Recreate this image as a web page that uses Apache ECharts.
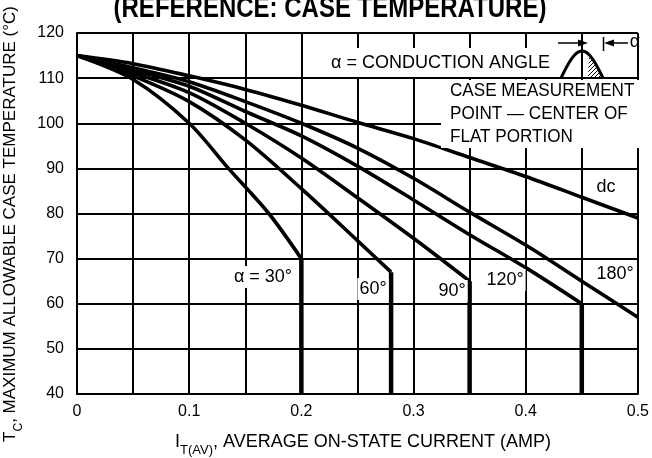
<!DOCTYPE html>
<html>
<head>
<meta charset="utf-8">
<script src="https://cdn.jsdelivr.net/npm/echarts@6/dist/echarts.min.js"></script>
<style>
    html, body { margin: 0; padding: 0; background: #fff; }
    #chart { width: 652px; height: 458px; }
</style>
</head>
<body>
<div id="chart"></div>
<script>
    // values: [I_T(AV) amps, T_C degC]
    var curveDc = [[0, 115], [0.05, 113.2], [0.1, 110.5], [0.15, 107.5], [0.2, 104], [0.25, 100.2], [0.3, 96.6], [0.35, 92.4], [0.4, 88.2], [0.45, 83.6], [0.5, 79]]
    var curve180 = [[0, 115], [0.05, 112.3], [0.1, 109.2], [0.15, 104.8], [0.2, 100], [0.25, 94.5], [0.3, 87.8], [0.35, 80.3], [0.4, 73], [0.45, 65], [0.5, 57]]
    var curve120 = [[0, 115], [0.05, 111.8], [0.1, 108.2], [0.15, 102.6], [0.2, 97.2], [0.25, 90.5], [0.3, 83], [0.35, 75.3], [0.4, 68], [0.45, 60]]
    var curve90 = [[0, 115], [0.05, 111.2], [0.1, 106.8], [0.15, 100], [0.2, 92.3], [0.25, 83.5], [0.3, 74.5], [0.35, 65]]
    var curve60 = [[0, 115], [0.05, 110.5], [0.1, 104.8], [0.15, 96.3], [0.2, 85.5], [0.25, 74], [0.28, 67]]
    var curve30 = [[0, 115], [0.05, 109.7], [0.1, 100], [0.135, 90], [0.171, 80], [0.2, 70]]
    // curves that stop at a current limit drop straight down to the bottom of the axis
    var dropFloor = 40

    var xTickLabels = ['0', '0.1', '0.2', '0.3', '0.4', '0.5']

    var font = "'Liberation Sans', Arial, sans-serif"

    var chart = echarts.init(document.getElementById('chart'))

    // small hatch pattern for the shaded part of the waveform
    var hatch = document.createElement('canvas')
    hatch.width = 4
    hatch.height = 4
    var hc = hatch.getContext('2d')
    hc.strokeStyle = '#000'
    hc.lineWidth = 1
    hc.beginPath()
    hc.moveTo(0, 4)
    hc.lineTo(4, 0)
    hc.stroke()

    function hump(x0, x1, base, h, from) {
        var pts = []
        for (var i = 0; i <= 24; i++) {
            var x = x0 + (x1 - x0) * i / 24
            if (from != null && x < from) continue
            pts.push([x, base - h * Math.sin(Math.PI * (x - x0) / (x1 - x0))])
        }
        return pts
    }
    var shaded = hump(561, 603, 78, 27, 588)
    shaded.unshift([588, 78])

    function curveSeries(data) {
        return {
            type: 'line',
            data: data,
            symbol: 'none',
            smooth: 0.3,
            silent: true,
            z: 3,
            lineStyle: { color: '#000', width: 3.6 }
        }
    }

    function dropSeries(data) {
        var last = data[data.length - 1]
        return {
            type: 'line',
            data: [last, [last[0], dropFloor]],
            symbol: 'none',
            silent: true,
            z: 3,
            lineStyle: { color: '#000', width: 4.5 }
        }
    }

    function label(text, x, y) {
        return {
            type: 'text', x: x, y: y, z: 10,
            style: {
                text: text, font: '18px ' + font, fill: '#000',
                align: 'center', verticalAlign: 'middle',
                backgroundColor: '#fff', padding: [2, 2]
            }
        }
    }

    chart.setOption({
        animation: false,
        grid: { left: 77, right: 9, top: 33, bottom: 64 },
        xAxis: {
            type: 'value', min: 0, max: 0.5, interval: 0.05,
            axisLine: { show: true, lineStyle: { color: '#000', width: 2 } },
            axisTick: { show: false },
            axisLabel: {
                color: '#000', fontSize: 16, fontFamily: font, margin: 10,
                formatter: function (v) {
                    var r = Math.round(v * 100)
                    return r % 10 === 0 ? xTickLabels[r / 10] : ''
                }
            },
            splitLine: { show: true, lineStyle: { color: '#000', width: 2 } }
        },
        yAxis: {
            type: 'value', min: 40, max: 120, interval: 10,
            axisLine: { show: true, lineStyle: { color: '#000', width: 2 } },
            axisTick: { show: false },
            axisLabel: { color: '#000', fontSize: 16, fontFamily: font, margin: 13 },
            splitLine: { show: true, lineStyle: { color: '#000', width: 2 } }
        },
        series: [
            curveSeries(curveDc),
            curveSeries(curve180),
            curveSeries(curve120),
            curveSeries(curve90),
            curveSeries(curve60),
            curveSeries(curve30),
            dropSeries(curve120),
            dropSeries(curve90),
            dropSeries(curve60),
            dropSeries(curve30)
        ],
        graphic: [
            {
                // title sits partly above the top edge, as in the scan
                type: 'text', x: 330, y: 24, z: 10, scaleX: 0.8,
                style: {
                    text: '(REFERENCE: CASE TEMPERATURE)',
                    font: 'bold 30px ' + font, fill: '#000',
                    align: 'center', verticalAlign: 'bottom'
                }
            },
            {
                type: 'text', x: 13, y: 224, rotation: Math.PI / 2, z: 10,
                style: {
                    text: '{n|T}{s|C}{n|, MAXIMUM ALLOWABLE CASE TEMPERATURE (°C)}',
                    align: 'center', verticalAlign: 'middle',
                    rich: {
                        n: { font: '17px ' + font, fill: '#000', lineHeight: 22, verticalAlign: 'top' },
                        s: { font: '12px ' + font, fill: '#000', lineHeight: 12, padding: [11, 0, 0, 0], verticalAlign: 'top' }
                    }
                }
            },
            {
                type: 'text', x: 363, y: 444, z: 10,
                style: {
                    text: '{n|I}{s|T(AV)}{n|, AVERAGE ON-STATE CURRENT (AMP)}',
                    align: 'center', verticalAlign: 'middle',
                    rich: {
                        n: { font: '18px ' + font, fill: '#000', lineHeight: 22, verticalAlign: 'top' },
                        s: { font: '13px ' + font, fill: '#000', lineHeight: 12, padding: [11, 0, 0, 0], verticalAlign: 'top' }
                    }
                }
            },
            // conduction angle legend box
            { type: 'rect', z: 9, shape: { x: 326, y: 48, width: 226, height: 29 }, style: { fill: '#fff' } },
            {
                type: 'text', x: 331, y: 63, z: 10,
                style: { text: 'α = CONDUCTION ANGLE', font: '18px ' + font, fill: '#000', align: 'left', verticalAlign: 'middle' }
            },
            { type: 'polygon', z: 10, shape: { points: shaded }, style: { fill: { image: hatch, repeat: 'repeat' }, stroke: null } },
            { type: 'polyline', z: 10, shape: { points: hump(561, 603, 78, 27) }, style: { stroke: '#000', lineWidth: 3, fill: null } },
            { type: 'line', z: 10, shape: { x1: 558, y1: 43, x2: 582, y2: 43 }, style: { stroke: '#000', lineWidth: 1.5 } },
            { type: 'polygon', z: 10, shape: { points: [[588, 43], [578, 39.5], [578, 46.5]] }, style: { fill: '#000' } },
            { type: 'line', z: 10, shape: { x1: 603.5, y1: 37, x2: 603.5, y2: 51 }, style: { stroke: '#000', lineWidth: 1.5 } },
            { type: 'line', z: 10, shape: { x1: 610, y1: 43, x2: 628, y2: 43 }, style: { stroke: '#000', lineWidth: 1.5 } },
            { type: 'polygon', z: 10, shape: { points: [[604, 43], [614, 39.5], [614, 46.5]] }, style: { fill: '#000' } },
            {
                type: 'text', x: 635, y: 42, z: 10,
                style: { text: 'α', font: '18px ' + font, fill: '#000', align: 'center', verticalAlign: 'middle' }
            },
            // case measurement note
            { type: 'rect', z: 9, shape: { x: 441, y: 80, width: 201, height: 68 }, style: { fill: '#fff' } },
            {
                type: 'text', x: 450, y: 114, z: 10, scaleX: 0.95,
                style: {
                    text: 'CASE MEASUREMENT\nPOINT — CENTER OF\nFLAT PORTION',
                    font: '18px ' + font, fill: '#000', lineHeight: 23.3,
                    align: 'left', verticalAlign: 'middle'
                }
            },
            label('dc', 606, 187),
            label('α = 30°', 263, 277),
            label('60°', 373, 289),
            label('90°', 452, 291),
            label('120°', 505, 280),
            label('180°', 615, 274)
        ]
    })
</script>
</body>
</html>
